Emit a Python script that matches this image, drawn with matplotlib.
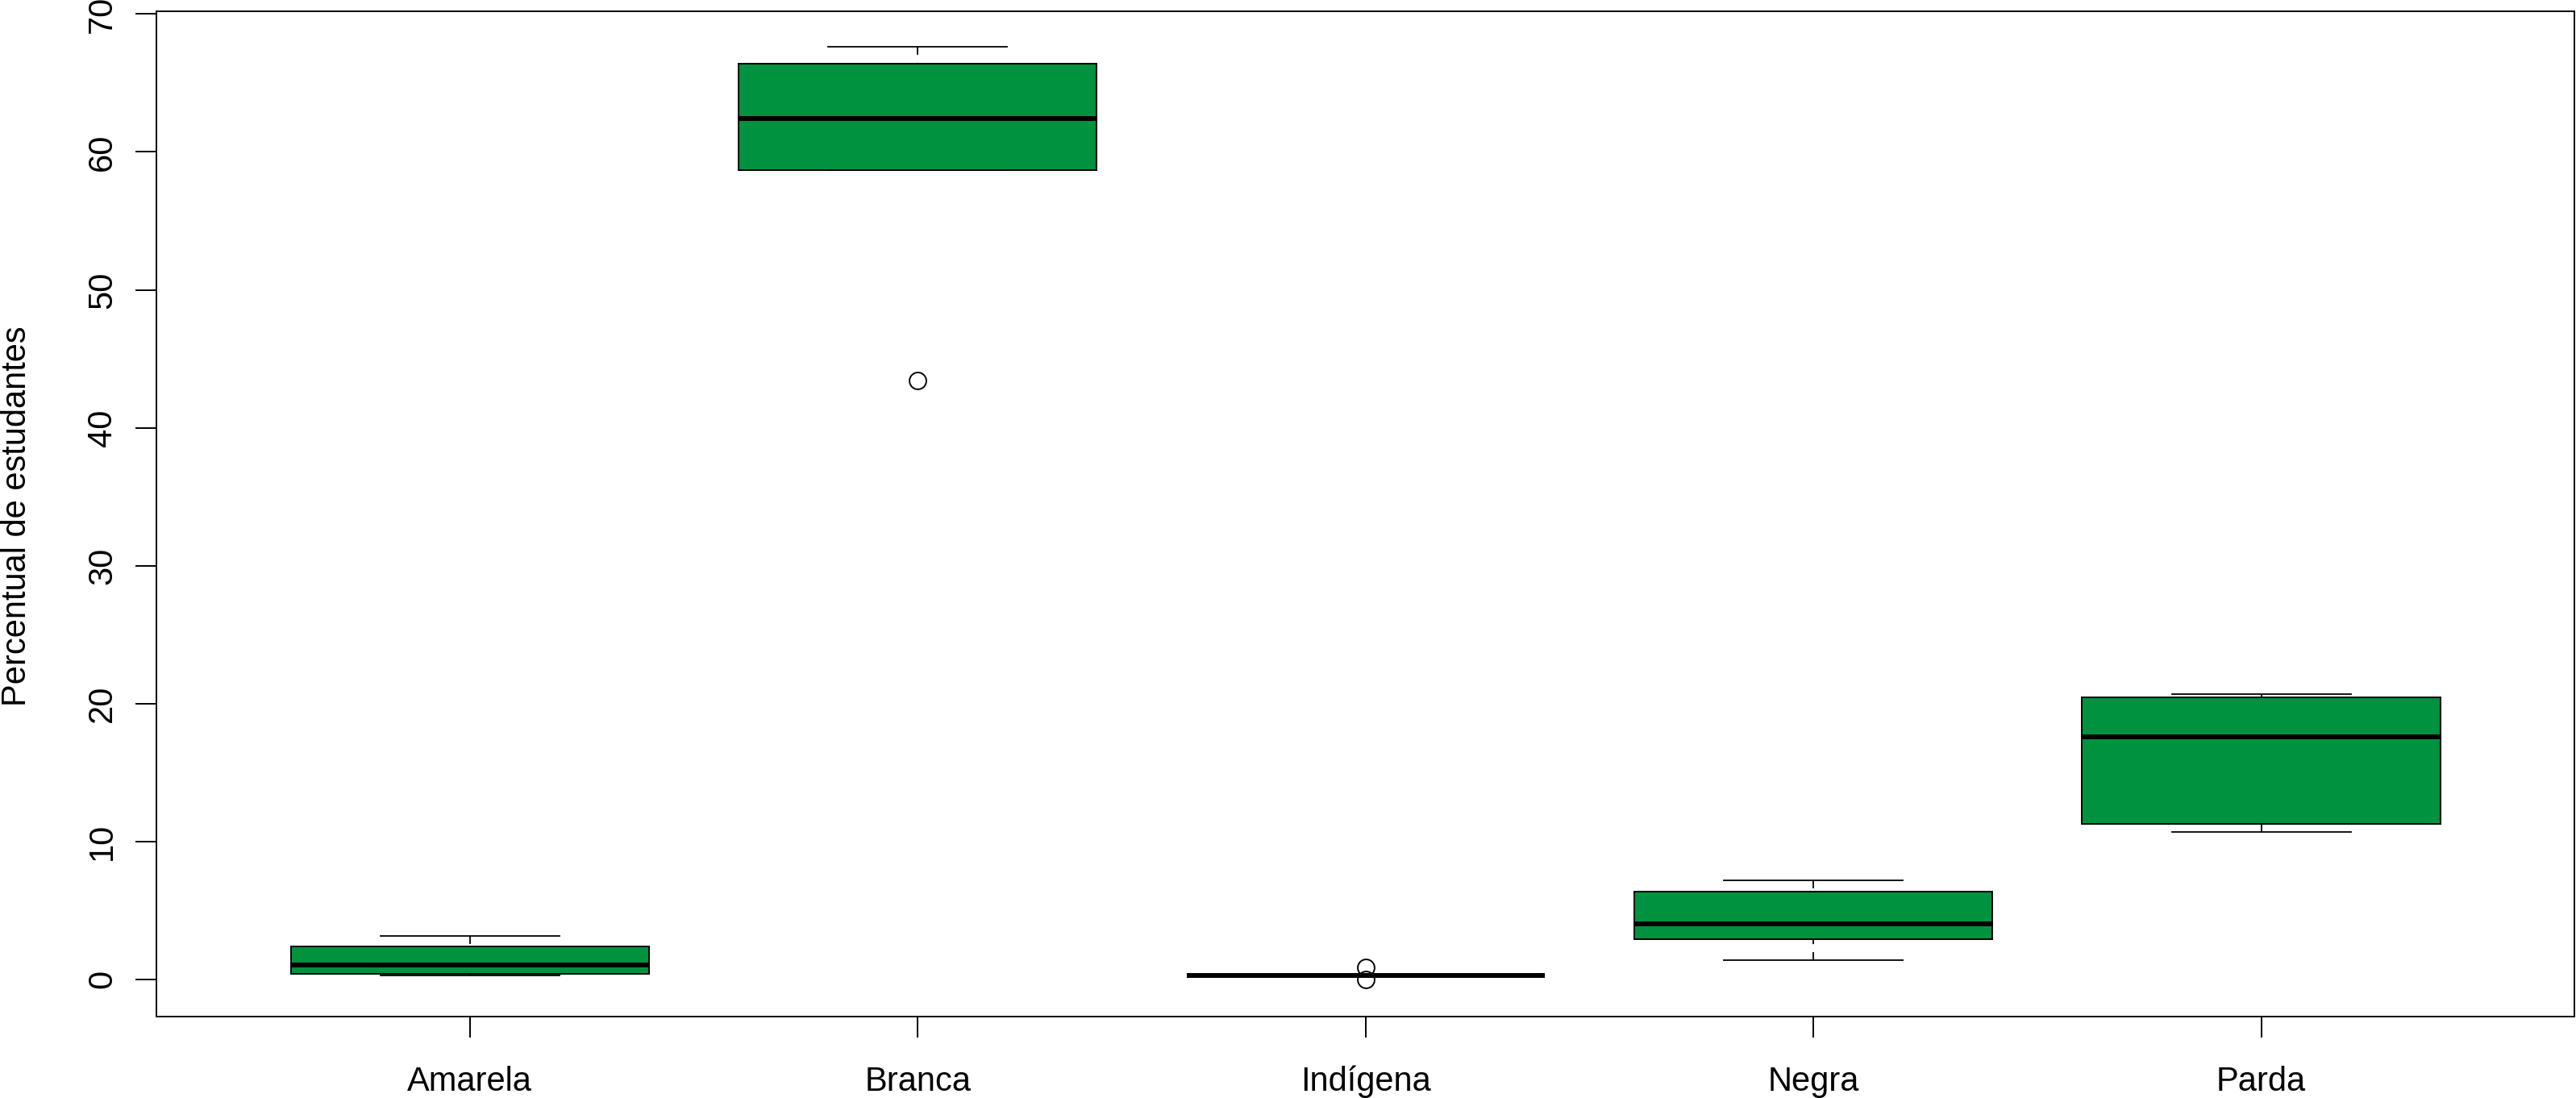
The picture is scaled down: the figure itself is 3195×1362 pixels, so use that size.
import matplotlib
matplotlib.use('Agg')
import matplotlib.pyplot as plt

plt.rcParams['font.family'] = ['Liberation Sans', 'DejaVu Sans']

# valores (percentual de estudantes por cor/raça)
categorias = ['Amarela', 'Branca', 'Indígena', 'Negra', 'Parda']
minimos = [0.3, 58.7, 0.3, 1.4, 10.7]
q1 = [0.4, 58.7, 0.3, 2.9, 11.3]
medianas = [1.05, 62.4, 0.3, 4.0, 17.6]
q3 = [2.4, 66.4, 0.3, 6.35, 20.45]
maximos = [3.15, 67.6, 0.3, 7.2, 20.7]
outliers = [[], [43.4], [0.85, 0.0], [], []]

stats = []
for i, c in enumerate(categorias):
    stats.append(dict(label=c, whislo=minimos[i], q1=q1[i], med=medianas[i],
                      q3=q3[i], whishi=maximos[i], fliers=outliers[i]))

fig = plt.figure(figsize=(31.95, 13.62), dpi=100)
ax = fig.add_axes([194 / 3195, 101 / 1362, 2999.5 / 3195, 1247 / 1362])

bp = ax.bxp(stats, positions=range(1, 6), widths=0.8, capwidths=0.4,
            patch_artist=True,
            boxprops=dict(facecolor='#00923F', edgecolor='black', linewidth=1.4),
            medianprops=dict(color='black', linewidth=4.3, solid_capstyle='butt'),
            whiskerprops=dict(color='black', linewidth=1.3, linestyle=(0, (5.5, 5.5))),
            capprops=dict(color='black', linewidth=1.3),
            flierprops=dict(marker='o', markerfacecolor='none', markeredgecolor='black',
                            markersize=15, markeredgewidth=1.4))

# como no R, o tracejado começa na ponta do bigode
for w in bp['whiskers']:
    w.set_ydata(w.get_ydata()[::-1])

ax.set_xlim(0.3, 5.7)
ax.set_ylim(-2.7, 70.2)
ax.set_yticks(range(0, 71, 10))
ax.tick_params(axis='both', length=18.7, width=1.4, labelsize=30, color='black')
ax.tick_params(axis='y', labelrotation=90, pad=15)
ax.tick_params(axis='x', pad=25)
for lbl in ax.get_yticklabels():
    lbl.set_va('center')
for s in ax.spines.values():
    s.set_linewidth(1.4)

fig.text(21 / 3195, 0.53, 'Percentual de estudantes', rotation=90,
         ha='center', va='center', fontsize=30)

fig.savefig('out.png', dpi=100)
